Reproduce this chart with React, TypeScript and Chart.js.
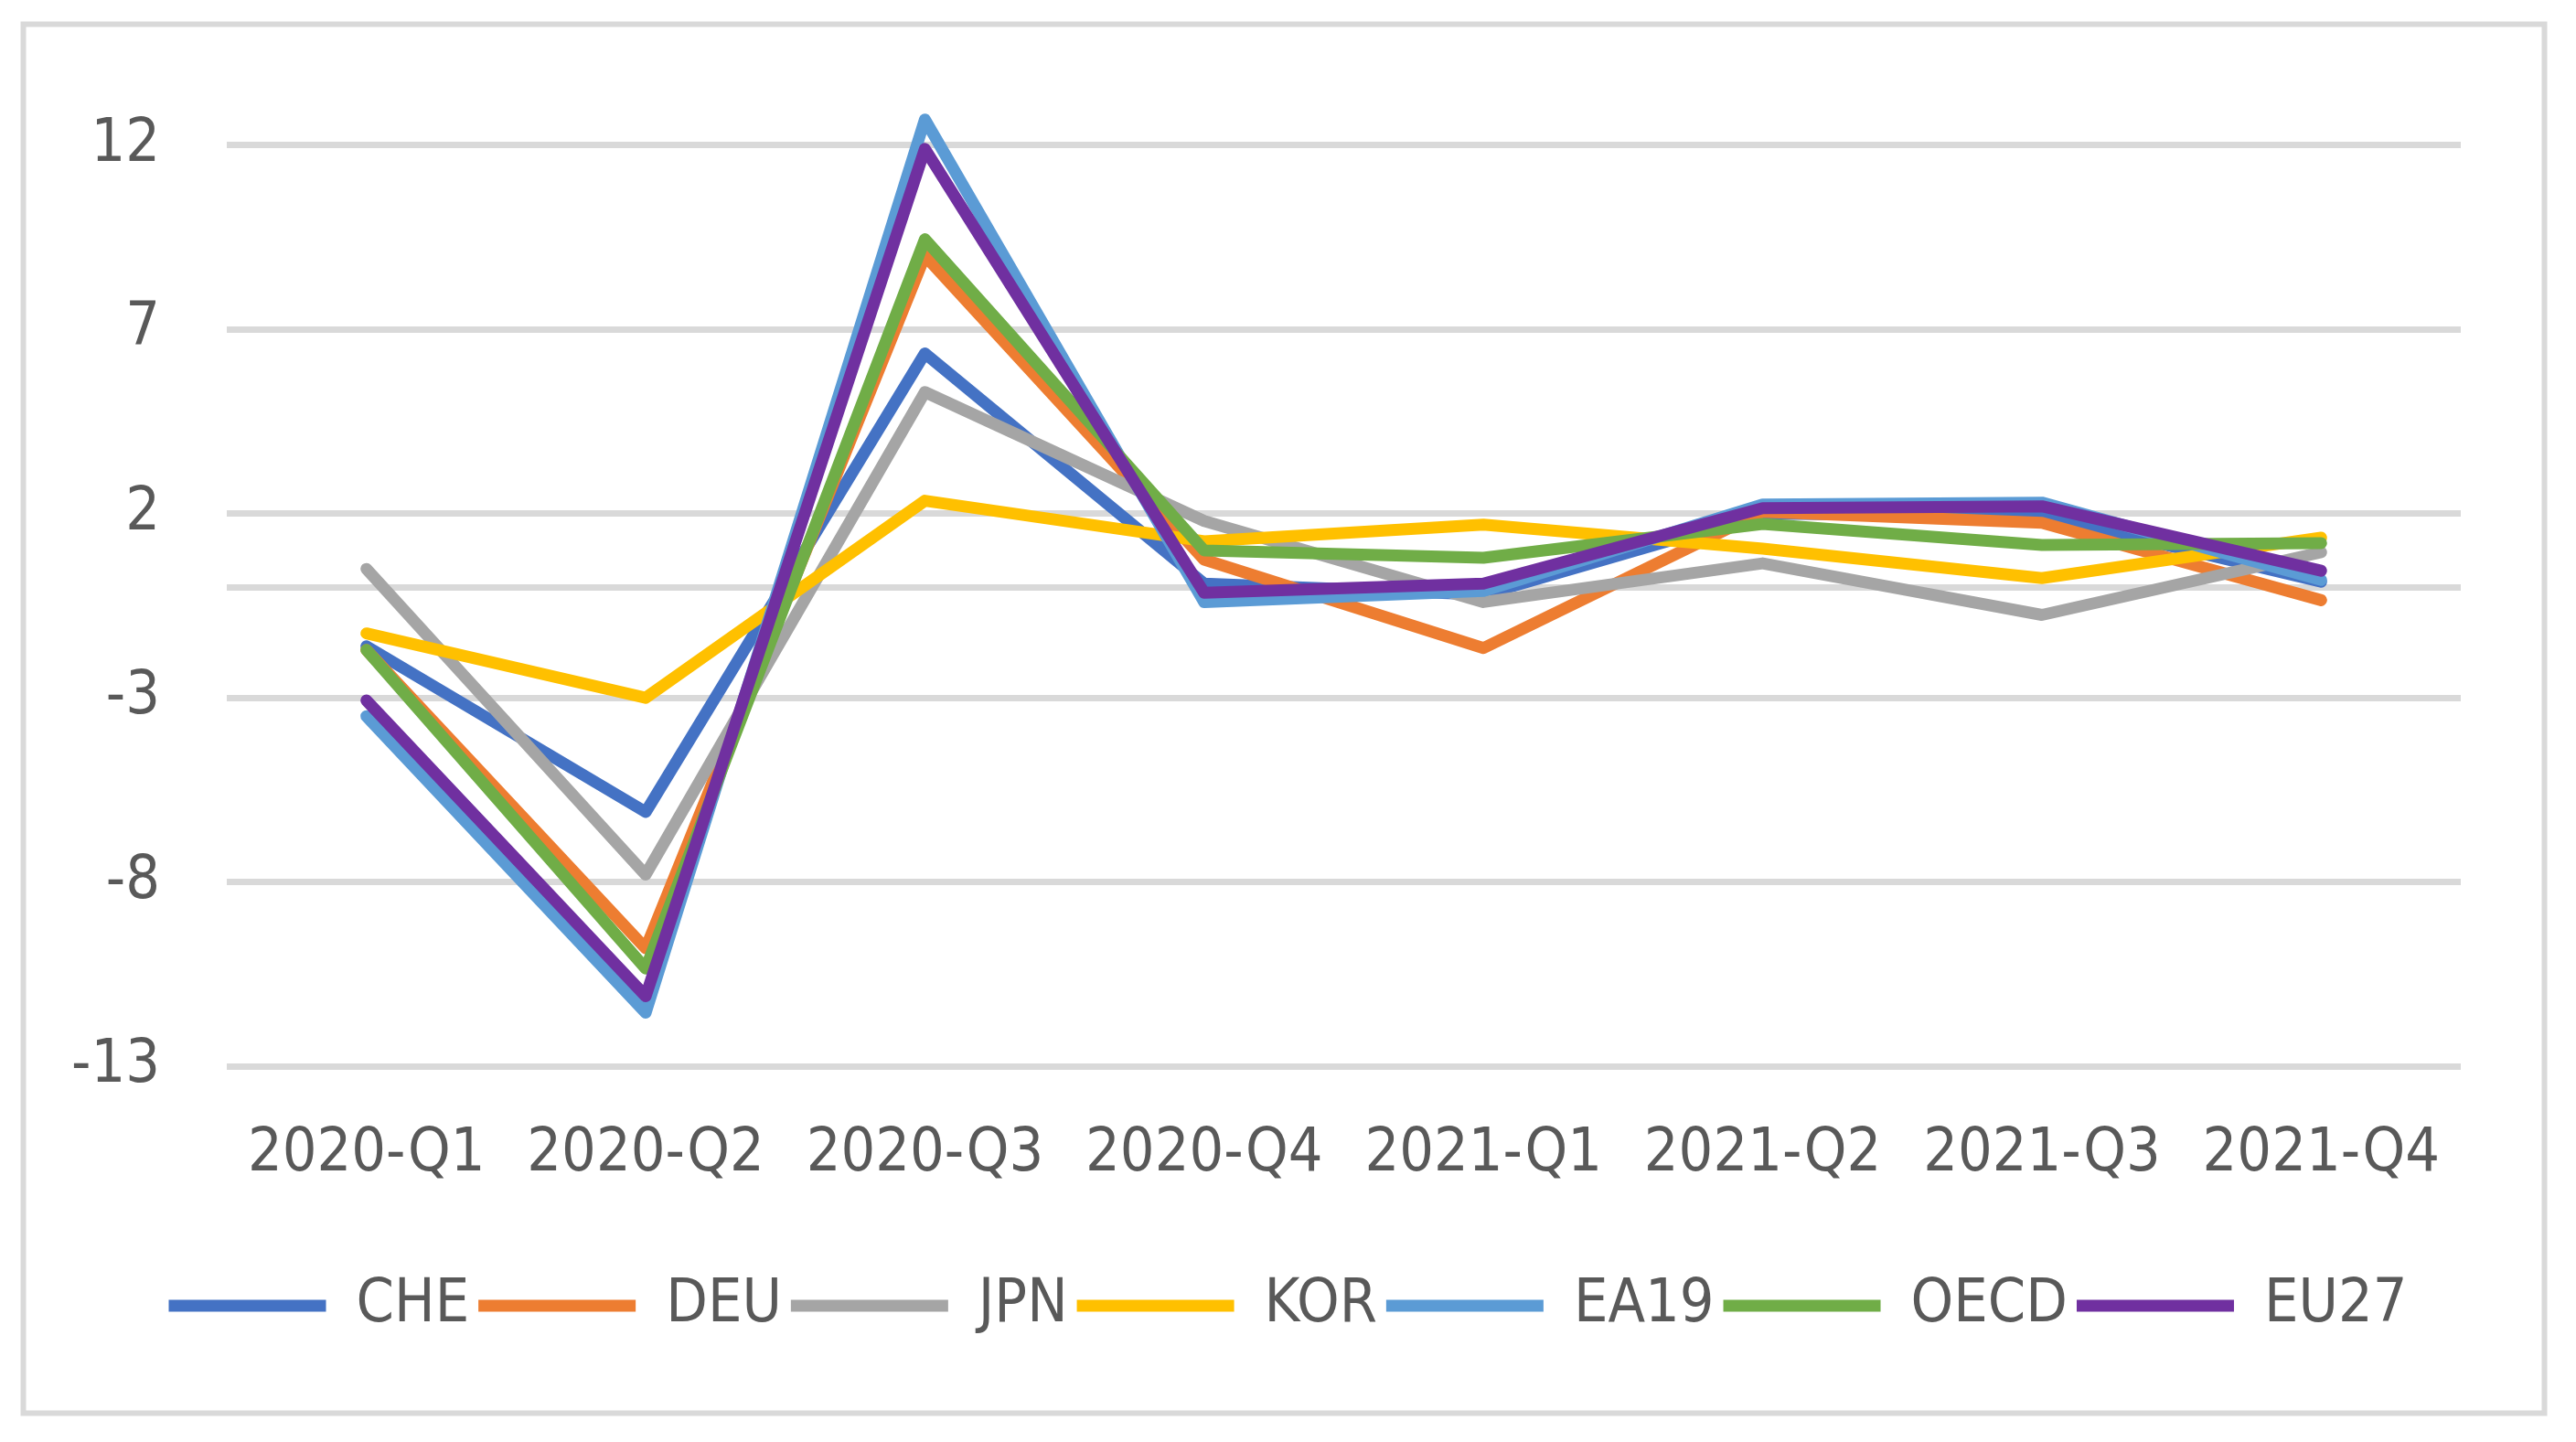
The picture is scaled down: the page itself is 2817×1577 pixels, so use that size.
import React, { useEffect, useRef } from 'react';
import { Chart, registerables } from 'chart.js';

Chart.register(...registerables);

// ---- data ----
const categories = ['2020-Q1', '2020-Q2', '2020-Q3', '2020-Q4', '2021-Q1', '2021-Q2', '2021-Q3', '2021-Q4'];
const seriesNames = ['CHE', 'DEU', 'JPN', 'KOR', 'EA19', 'OECD', 'EU27'];
const CHE = [-1.6, -6.1, 6.35, 0.1, -0.2, 2.0, 1.95, 0.15];
const DEU = [-1.7, -9.8, 9.0, 0.75, -1.65, 2.05, 1.75, -0.35];
const JPN = [0.5, -7.8, 5.3, 1.8, -0.4, 0.65, -0.75, 0.95];
const KOR = [-1.25, -3.0, 2.35, 1.25, 1.7, 1.05, 0.25, 1.35];
const EA19 = [-3.5, -11.55, 12.7, -0.4, -0.1, 2.25, 2.3, 0.2];
const OECD = [-1.7, -10.35, 9.45, 1.0, 0.8, 1.72, 1.15, 1.2];
const EU27 = [-3.07, -11.1, 11.9, -0.15, 0.1, 2.15, 2.2, 0.45];
const seriesValues = [CHE, DEU, JPN, KOR, EA19, OECD, EU27];
const seriesColors = ['#4472C4', '#ED7D31', '#A5A5A5', '#FFC000', '#5B9BD5', '#70AD47', '#7030A0'];
const yTickValues = [-13, -8, -3, 2, 7, 12];
const zeroLine = 0;
const yMin = -13;
const yMax = 15;

const FONT = "'DejaVu Sans Condensed', 'Liberation Sans', sans-serif";
const TEXT = '#595959';
const GRID = '#D9D9D9';
const W = 2817;
const H = 1577;

const framePlugin = {
  id: 'frame',
  beforeDraw(chart: any) {
    const ctx = chart.ctx;
    ctx.save();
    ctx.fillStyle = '#ffffff';
    ctx.fillRect(0, 0, chart.width, chart.height);
    ctx.strokeStyle = GRID;
    ctx.lineWidth = 6;
    ctx.strokeRect(25.5, 26.5, 2757, 1519);
    ctx.restore();
  },
};

export default function App() {
  const ref = useRef<HTMLCanvasElement | null>(null);

  useEffect(() => {
    if (!ref.current) return;
    const n = seriesNames.length;
    const chart = new Chart(ref.current, {
      type: 'line',
      data: {
        labels: categories,
        datasets: seriesNames.map((name, i) => ({
          label: name,
          data: seriesValues[i],
          borderColor: seriesColors[i],
          backgroundColor: seriesColors[i],
          borderWidth: 13,
          borderCapStyle: 'round',
          borderJoinStyle: 'round',
          pointRadius: 0,
          pointHoverRadius: 0,
          tension: 0,
          fill: false,
          order: n - i,
        })),
      },
      options: {
        animation: false,
        responsive: false,
        devicePixelRatio: 1,
        layout: { padding: { top: 38, bottom: 106, left: 0, right: 0 } },
        plugins: {
          tooltip: { enabled: false },
          legend: {
            position: 'bottom',
            labels: {
              usePointStyle: true,
              pointStyle: 'line',
              pointStyleWidth: 172,
              padding: 10,
              color: TEXT,
              font: { family: FONT, size: 66 },
              sort: (a: any, b: any) => a.datasetIndex - b.datasetIndex,
            },
          },
        },
        scales: {
          x: {
            type: 'category',
            offset: true,
            grid: { display: false, drawTicks: false },
            border: { display: false },
            ticks: {
              color: TEXT,
              font: { family: FONT, size: 66 },
              padding: 57,
              maxRotation: 0,
              autoSkip: false,
            },
            afterFit: (scale: any) => {
              scale.height = 219;
            },
          },
          y: {
            type: 'linear',
            min: yMin,
            max: yMax,
            grid: { color: GRID, lineWidth: 7, drawTicks: false },
            border: { display: false },
            ticks: {
              color: TEXT,
              font: { family: FONT, size: 66 },
              padding: 73,
              callback: (value: any) => (yTickValues.includes(Number(value)) ? String(value) : ''),
            },
            afterBuildTicks: (scale: any) => {
              scale.ticks = [...yTickValues, zeroLine]
                .sort((a, b) => a - b)
                .map((v) => ({ value: v }));
            },
            afterFit: (scale: any) => {
              scale.width = 248;
              scale.paddingTop = 0;
              scale.paddingBottom = 0;
            },
          },
          y2: {
            type: 'linear',
            position: 'right',
            display: true,
            grid: { display: false, drawTicks: false },
            border: { display: false },
            ticks: { display: false },
            afterFit: (scale: any) => {
              scale.width = 126;
              scale.paddingTop = 0;
              scale.paddingBottom = 0;
            },
          },
        },
      },
      plugins: [framePlugin],
    } as any);
    return () => chart.destroy();
  }, []);

  return (
    <div style={{ position: 'fixed', left: 0, top: 0, width: W, height: H, background: '#fff' }}>
      <canvas ref={ref} width={W} height={H} style={{ width: W, height: H, display: 'block' }} />
    </div>
  );
}
